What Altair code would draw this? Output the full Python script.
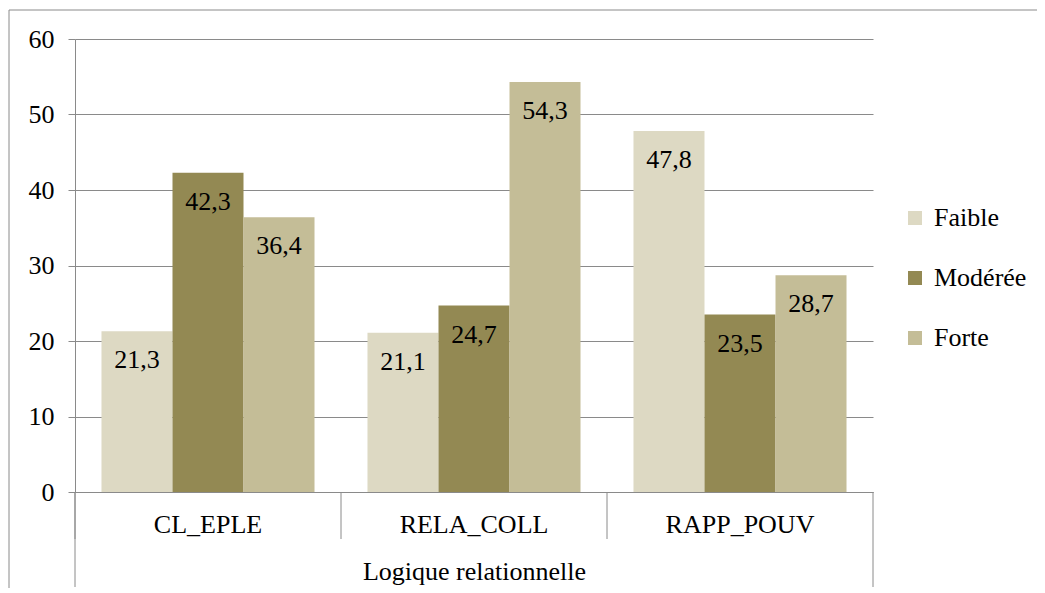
import altair as alt
import pandas as pd

categories = ["CL_EPLE", "RELA_COLL", "RAPP_POUV"]
series = ["Faible", "Modérée", "Forte"]
faible = [21.3, 21.1, 47.8]
moderee = [42.3, 24.7, 23.5]
forte = [36.4, 54.3, 28.7]
colors = ["#DDD9C3", "#938953", "#C4BD97"]
y_ticks = [0, 10, 20, 30, 40, 50, 60]
group_title = "Logique relationnelle"

rows = []
for i, c in enumerate(categories):
    for s, vals in zip(series, [faible, moderee, forte]):
        v = vals[i]
        rows.append({"cat": c, "serie": s, "val": v,
                     "label": f"{v:.1f}".replace(".", ",")})
df = pd.DataFrame(rows)
cat_df = pd.DataFrame({"cat": categories})
one = pd.DataFrame({"k": [0]})

W, H = 798, 453
FONT = "Times New Roman, Liberation Serif, Tinos, DejaVu Serif, Noto Serif, serif"
GRAY = "#8a8a8a"

x = alt.X("cat:N", sort=categories,
          scale=alt.Scale(paddingInner=0, paddingOuter=0),
          axis=alt.Axis(title=group_title, labelAngle=0, labelFontSize=26,
                        labelFont=FONT, labelColor="black", titleFont=FONT,
                        titleFontSize=26, titleFontWeight="normal",
                        titleColor="black", ticks=False, domainColor=GRAY,
                        labelPadding=19, titlePadding=21))
xo = alt.XOffset("serie:N", sort=series,
                 scale=alt.Scale(paddingOuter=0.373, paddingInner=0))
y = alt.Y("val:Q", scale=alt.Scale(domain=[0, 60], nice=False),
          axis=alt.Axis(values=y_ticks, title=None, labelFontSize=26,
                        labelFont=FONT, labelColor="black", tickSize=7,
                        tickColor=GRAY, domainColor=GRAY, gridColor=GRAY,
                        labelPadding=14))
color = alt.Color("serie:N", sort=series,
                  scale=alt.Scale(domain=series, range=colors),
                  legend=alt.Legend(title=None, orient="none", legendX=827,
                                    legendY=166, symbolType="square",
                                    symbolSize=196, symbolStrokeWidth=0,
                                    labelFontSize=26, labelFont=FONT,
                                    labelColor="black", rowPadding=34,
                                    labelOffset=6, padding=0))

bars = alt.Chart(df).mark_bar(strokeWidth=0).encode(x=x, xOffset=xo, y=y, color=color)
labels = alt.Chart(df).mark_text(baseline="middle", dy=29, fontSize=26,
                                 font=FONT, color="black").encode(
    x=alt.X("cat:N", sort=categories), xOffset=alt.XOffset("serie:N", sort=series),
    y="val:Q", text="label:N")

seps = alt.Chart(cat_df).mark_rule(color=GRAY, strokeWidth=1).encode(
    x=alt.X("cat:N", sort=categories, bandPosition=0),
    y=alt.value(H), y2=alt.value(H + 47))
right_sep = alt.Chart(one).mark_rule(color=GRAY).encode(
    x=alt.value(W), y=alt.value(H), y2=alt.value(H + 95))
left_sep = alt.Chart(one).mark_rule(color=GRAY).encode(
    x=alt.value(0), y=alt.value(H), y2=alt.value(H + 95))
border_top = alt.Chart(one).mark_rule(color=GRAY).encode(
    x=alt.value(-66), x2=alt.value(W + 170), y=alt.value(-29))
border_left = alt.Chart(one).mark_rule(color=GRAY).encode(
    x=alt.value(-66), y=alt.value(-29), y2=alt.value(H + 110))

chart = alt.layer(bars, labels, seps, right_sep, left_sep, border_top, border_left).properties(
    width=W, height=H,
    autosize=alt.AutoSizeParams(type="none"),
    padding={"left": 67, "top": 31, "right": 164, "bottom": 96},
).configure_view(strokeWidth=0).configure_axis(gridWidth=1)

chart.save("out.html", embed_options={"renderer": "svg", "actions": False})
